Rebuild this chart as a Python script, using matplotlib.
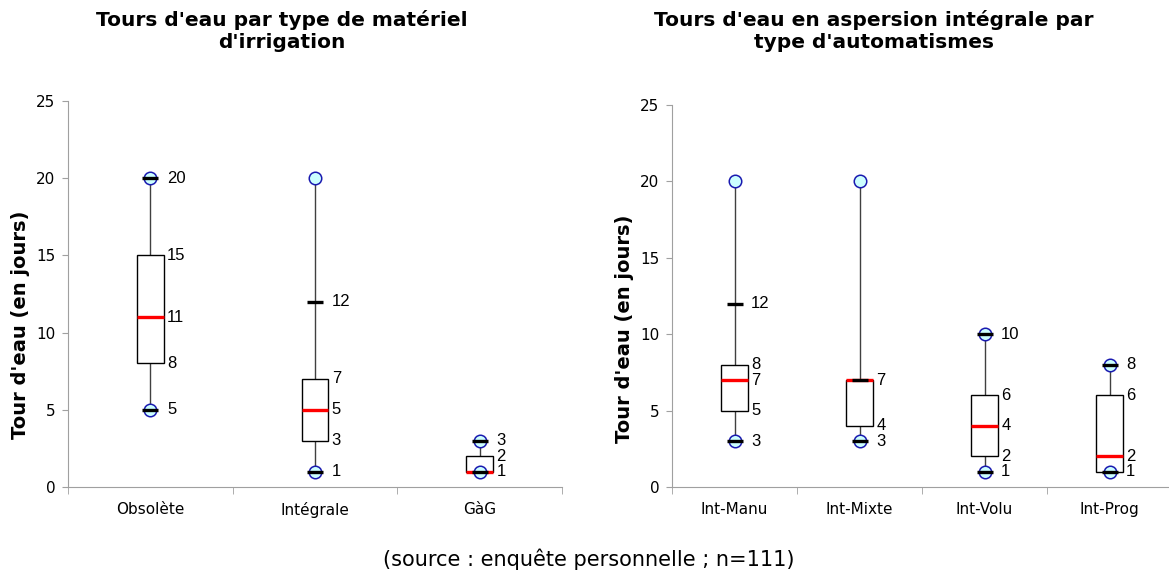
import matplotlib
matplotlib.use("Agg")
import matplotlib.pyplot as plt

# left chart : matériel d'irrigation
mat_names = ["Obsolète", "Intégrale", "GàG"]
mat_min = [5, 1, 1]
mat_d1 = [5, 1, 1]
mat_q1 = [8, 3, 1]
mat_med = [11, 5, 1]
mat_q3 = [15, 7, 2]
mat_d9 = [20, 12, 3]
mat_max = [20, 20, 3]

# right chart : automatismes en aspersion intégrale
auto_names = ["Int-Manu", "Int-Mixte", "Int-Volu", "Int-Prog"]
auto_min = [3, 3, 1, 1]
auto_d1 = [3, 3, 1, 1]
auto_q1 = [5, 4, 2, 1]
auto_med = [7, 7, 4, 2]
auto_q3 = [8, 7, 6, 6]
auto_d9 = [12, 7, 10, 8]
auto_max = [20, 20, 10, 8]

GRAY = "#a0a0a0"


def draw_boxes(ax, names, vmin, d1, q1, med, q3, d9, vmax, width):
    pos = list(range(1, len(names) + 1))
    # whisker line min -> max
    ax.vlines(pos, vmin, vmax, color="#404040", lw=1, zorder=1)
    stats = []
    for i in range(len(names)):
        stats.append({"med": med[i], "q1": q1[i], "q3": q3[i],
                      "whislo": q1[i], "whishi": q3[i], "fliers": []})
    ax.bxp(stats, positions=pos, widths=width, patch_artist=True,
           showcaps=False, showfliers=False, manage_ticks=False,
           boxprops=dict(facecolor="white", edgecolor="black", lw=1),
           medianprops=dict(color="red", lw=2.4, solid_capstyle="butt"),
           whiskerprops=dict(lw=0), zorder=2)
    ax.plot(pos, vmin, "o", ms=9, mfc="#ccffff", mec="#1a1ab0", mew=1.1, ls="none", zorder=4)
    ax.plot(pos, vmax, "o", ms=9, mfc="#ccffff", mec="#1a1ab0", mew=1.1, ls="none", zorder=4)
    ax.plot(pos, d1, "_", ms=11.5, mew=2.4, color="black", ls="none", zorder=5)
    ax.plot(pos, d9, "_", ms=11.5, mew=2.4, color="black", ls="none", zorder=5)

    for i, x in enumerate(pos):
        for v in sorted(set([d1[i], q1[i], med[i], q3[i], d9[i]])):
            ax.annotate(str(v), (x, v), xytext=(12, 0), textcoords="offset points",
                        ha="left", va="center", fontsize=12, family="Liberation Sans")

    ax.set_ylim(0, 25)
    ax.set_yticks([0, 5, 10, 15, 20, 25])
    ax.set_xlim(0.5, len(names) + 0.5)
    ax.set_xticks(pos)
    ax.set_xticklabels(names)
    ax.set_xticks([p + 0.5 for p in [0] + pos], minor=True)
    ax.tick_params(axis="x", which="major", length=0, pad=11, labelsize=11)
    ax.tick_params(axis="x", which="minor", length=5, color=GRAY)
    ax.tick_params(axis="y", length=4, color=GRAY, labelsize=11, pad=5)
    for s in ["top", "right"]:
        ax.spines[s].set_visible(False)
    for s in ["left", "bottom"]:
        ax.spines[s].set_color(GRAY)


fig = plt.figure(figsize=(11.69, 5.73), dpi=100)
ax1 = fig.add_axes([68 / 1169, 86 / 573, 494 / 1169, 386 / 573])
ax2 = fig.add_axes([672 / 1169, 86 / 573, 500 / 1169, 382 / 573])

draw_boxes(ax1, mat_names, mat_min, mat_d1, mat_q1, mat_med, mat_q3, mat_d9, mat_max, 0.16)
draw_boxes(ax2, auto_names, auto_min, auto_d1, auto_q1, auto_med, auto_q3, auto_d9, auto_max, 0.215)

fig.text(282 / 1169, 1 - 30.5 / 573, "Tours d'eau par type de matériel\nd'irrigation",
         ha="center", va="center", fontsize=14.5, fontweight="bold", linespacing=1.2)
fig.text(874 / 1169, 1 - 30.5 / 573, "Tours d'eau en aspersion intégrale par\ntype d'automatismes",
         ha="center", va="center", fontsize=14.5, fontweight="bold", linespacing=1.2)

fig.text(21 / 1169, 1 - 325 / 573, "Tour d'eau (en jours)", rotation=90,
         ha="center", va="center", fontsize=14, fontweight="bold")
fig.text(624 / 1169, 1 - 329 / 573, "Tour d'eau (en jours)", rotation=90,
         ha="center", va="center", fontsize=14, fontweight="bold")

fig.text(589 / 1169, 1 - 559 / 573, "(source : enquête personnelle ; n=111)",
         ha="center", va="center", fontsize=15)

fig.savefig("out.png", dpi=100)
